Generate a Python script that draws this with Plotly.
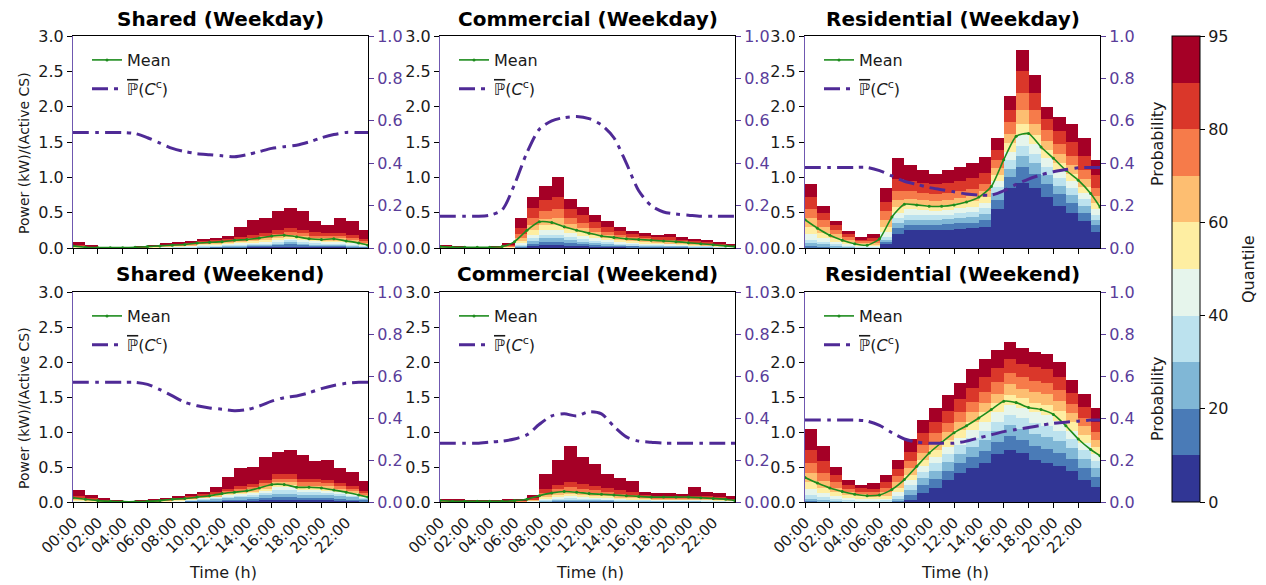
import plotly.graph_objects as go

# ---------------- data ----------------
HOURS = list(range(24))                      # bar bins (hour h covers h..h+1)
LINE_T = [float(h) for h in range(24)] + [23.75]   # sample times of the lines
QUANTILE_LEVELS = [10, 20, 30, 40, 50, 60, 70, 80, 90, 95]
TICK_HOURS = list(range(0, 24, 2))
TICK_LABELS = ["00:00", "02:00", "04:00", "06:00", "08:00", "10:00",
               "12:00", "14:00", "16:00", "18:00", "20:00", "22:00"]
CBAR_TICKS = ["0", "20", "40", "60", "80", "95"]
BAND_COLORS = ["#313695", "#4a7bb7", "#80b7d6", "#bce2ee", "#e6f5ec",
               "#feeea2", "#fdbe71", "#f67b4a", "#da372a", "#a50026"]

# quantile boundaries per hour: q10 q20 q30 q40 q50 q60 q70 q80 q90 q95
SHA_WD_Q = [
    [0, 0, 0, 0.005, 0.01, 0.015, 0.02, 0.03, 0.045, 0.08],
    [0, 0, 0, 0, 0.005, 0.005, 0.01, 0.015, 0.02, 0.03],
    [0, 0, 0, 0, 0, 0, 0.005, 0.005, 0.01, 0.01],
    [0, 0, 0, 0, 0, 0, 0.005, 0.005, 0.01, 0.01],
    [0, 0, 0, 0, 0, 0, 0.005, 0.005, 0.01, 0.01],
    [0, 0, 0, 0, 0, 0.005, 0.005, 0.01, 0.015, 0.02],
    [0, 0, 0, 0.005, 0.01, 0.015, 0.02, 0.025, 0.03, 0.04],
    [0, 0, 0.005, 0.01, 0.015, 0.02, 0.03, 0.035, 0.045, 0.06],
    [0, 0.005, 0.01, 0.015, 0.02, 0.03, 0.04, 0.05, 0.06, 0.08],
    [0, 0.005, 0.01, 0.02, 0.03, 0.04, 0.05, 0.06, 0.075, 0.1],
    [0.005, 0.01, 0.02, 0.03, 0.045, 0.06, 0.07, 0.085, 0.1, 0.12],
    [0.005, 0.015, 0.025, 0.04, 0.055, 0.07, 0.08, 0.095, 0.115, 0.14],
    [0.01, 0.02, 0.03, 0.045, 0.06, 0.075, 0.09, 0.11, 0.13, 0.17],
    [0.01, 0.025, 0.04, 0.055, 0.075, 0.09, 0.11, 0.13, 0.16, 0.3],
    [0.015, 0.03, 0.045, 0.06, 0.08, 0.1, 0.12, 0.145, 0.18, 0.4],
    [0.015, 0.035, 0.05, 0.07, 0.095, 0.115, 0.14, 0.17, 0.21, 0.42],
    [0.02, 0.045, 0.065, 0.09, 0.115, 0.14, 0.17, 0.2, 0.26, 0.52],
    [0.02, 0.05, 0.08, 0.11, 0.14, 0.16, 0.19, 0.23, 0.29, 0.56],
    [0.02, 0.045, 0.07, 0.095, 0.12, 0.145, 0.175, 0.21, 0.26, 0.52],
    [0.015, 0.035, 0.055, 0.075, 0.1, 0.12, 0.145, 0.175, 0.22, 0.38],
    [0.015, 0.03, 0.05, 0.07, 0.09, 0.11, 0.135, 0.165, 0.21, 0.33],
    [0.015, 0.03, 0.05, 0.07, 0.09, 0.11, 0.135, 0.165, 0.21, 0.43],
    [0.01, 0.02, 0.04, 0.055, 0.075, 0.09, 0.11, 0.14, 0.18, 0.38],
    [0.005, 0.015, 0.025, 0.04, 0.05, 0.065, 0.08, 0.1, 0.13, 0.25],
]
SHA_WE_Q = [
    [0, 0, 0.005, 0.01, 0.02, 0.03, 0.045, 0.06, 0.09, 0.17],
    [0, 0, 0, 0.005, 0.01, 0.02, 0.03, 0.04, 0.06, 0.1],
    [0, 0, 0, 0, 0.005, 0.01, 0.015, 0.02, 0.03, 0.05],
    [0, 0, 0, 0, 0, 0.005, 0.005, 0.01, 0.015, 0.02],
    [0, 0, 0, 0, 0, 0, 0.005, 0.005, 0.005, 0.01],
    [0, 0, 0, 0, 0, 0, 0.005, 0.005, 0.01, 0.02],
    [0, 0, 0, 0, 0.005, 0.005, 0.01, 0.015, 0.02, 0.03],
    [0, 0, 0, 0.005, 0.01, 0.015, 0.02, 0.03, 0.04, 0.05],
    [0, 0, 0.005, 0.01, 0.02, 0.03, 0.04, 0.05, 0.06, 0.08],
    [0.005, 0.015, 0.025, 0.035, 0.04, 0.05, 0.055, 0.065, 0.08, 0.12],
    [0.01, 0.02, 0.035, 0.05, 0.06, 0.07, 0.08, 0.09, 0.11, 0.15],
    [0.01, 0.025, 0.045, 0.06, 0.075, 0.085, 0.1, 0.12, 0.145, 0.22],
    [0.015, 0.035, 0.06, 0.08, 0.1, 0.115, 0.135, 0.16, 0.19, 0.36],
    [0.015, 0.04, 0.065, 0.095, 0.12, 0.135, 0.155, 0.185, 0.225, 0.48],
    [0.02, 0.045, 0.075, 0.11, 0.135, 0.155, 0.18, 0.21, 0.255, 0.5],
    [0.025, 0.055, 0.095, 0.135, 0.17, 0.19, 0.225, 0.265, 0.32, 0.65],
    [0.03, 0.07, 0.12, 0.17, 0.21, 0.24, 0.28, 0.33, 0.4, 0.72],
    [0.03, 0.07, 0.12, 0.17, 0.21, 0.24, 0.28, 0.33, 0.4, 0.74],
    [0.025, 0.06, 0.1, 0.145, 0.175, 0.2, 0.235, 0.28, 0.335, 0.67],
    [0.025, 0.06, 0.1, 0.145, 0.175, 0.2, 0.235, 0.28, 0.335, 0.58],
    [0.025, 0.055, 0.095, 0.135, 0.17, 0.19, 0.225, 0.265, 0.32, 0.6],
    [0.02, 0.05, 0.08, 0.115, 0.145, 0.165, 0.19, 0.225, 0.27, 0.48],
    [0.015, 0.04, 0.065, 0.095, 0.12, 0.135, 0.155, 0.185, 0.225, 0.43],
    [0.01, 0.03, 0.05, 0.07, 0.085, 0.095, 0.11, 0.13, 0.16, 0.3],
]
COM_WD_Q = [
    [0, 0, 0, 0, 0.005, 0.01, 0.015, 0.02, 0.03, 0.04],
    [0, 0, 0, 0, 0, 0.005, 0.01, 0.01, 0.015, 0.02],
    [0, 0, 0, 0, 0, 0, 0.005, 0.005, 0.01, 0.01],
    [0, 0, 0, 0, 0, 0, 0.005, 0.005, 0.01, 0.01],
    [0, 0, 0, 0, 0, 0.005, 0.005, 0.01, 0.015, 0.02],
    [0, 0, 0, 0.005, 0.01, 0.015, 0.02, 0.03, 0.045, 0.06],
    [0.01, 0.02, 0.03, 0.05, 0.07, 0.1, 0.14, 0.2, 0.29, 0.42],
    [0.03, 0.06, 0.1, 0.14, 0.19, 0.25, 0.33, 0.43, 0.56, 0.72],
    [0.04, 0.09, 0.14, 0.19, 0.25, 0.32, 0.41, 0.53, 0.68, 0.88],
    [0.04, 0.09, 0.14, 0.19, 0.25, 0.32, 0.42, 0.55, 0.72, 1.0],
    [0.03, 0.07, 0.11, 0.16, 0.21, 0.27, 0.34, 0.43, 0.55, 0.7],
    [0.03, 0.06, 0.09, 0.13, 0.17, 0.22, 0.28, 0.36, 0.46, 0.58],
    [0.02, 0.05, 0.07, 0.1, 0.14, 0.18, 0.23, 0.29, 0.37, 0.46],
    [0.02, 0.04, 0.06, 0.08, 0.11, 0.14, 0.18, 0.23, 0.3, 0.38],
    [0.015, 0.03, 0.05, 0.07, 0.09, 0.12, 0.15, 0.19, 0.24, 0.3],
    [0.01, 0.03, 0.04, 0.06, 0.08, 0.1, 0.13, 0.16, 0.2, 0.24],
    [0.01, 0.02, 0.04, 0.05, 0.07, 0.09, 0.11, 0.14, 0.17, 0.21],
    [0.01, 0.02, 0.03, 0.05, 0.06, 0.08, 0.1, 0.12, 0.15, 0.19],
    [0.01, 0.02, 0.03, 0.04, 0.06, 0.07, 0.09, 0.12, 0.15, 0.2],
    [0.01, 0.02, 0.03, 0.04, 0.05, 0.06, 0.08, 0.1, 0.12, 0.15],
    [0.005, 0.01, 0.02, 0.03, 0.04, 0.05, 0.07, 0.08, 0.1, 0.13],
    [0.005, 0.01, 0.02, 0.03, 0.03, 0.04, 0.05, 0.07, 0.09, 0.11],
    [0, 0.01, 0.01, 0.02, 0.02, 0.03, 0.04, 0.05, 0.06, 0.08],
    [0, 0.005, 0.01, 0.01, 0.015, 0.02, 0.025, 0.03, 0.04, 0.05],
]
COM_WE_Q = [
    [0, 0, 0, 0, 0.005, 0.01, 0.01, 0.015, 0.02, 0.04],
    [0, 0, 0, 0, 0, 0.005, 0.005, 0.01, 0.015, 0.03],
    [0, 0, 0, 0, 0, 0, 0.005, 0.005, 0.01, 0.02],
    [0, 0, 0, 0, 0, 0, 0.005, 0.005, 0.01, 0.02],
    [0, 0, 0, 0, 0, 0, 0.005, 0.005, 0.01, 0.02],
    [0, 0, 0, 0, 0, 0.005, 0.005, 0.01, 0.015, 0.03],
    [0, 0, 0, 0, 0.005, 0.01, 0.01, 0.015, 0.025, 0.05],
    [0, 0, 0.005, 0.01, 0.015, 0.02, 0.03, 0.04, 0.06, 0.1],
    [0.005, 0.01, 0.02, 0.03, 0.05, 0.07, 0.1, 0.13, 0.18, 0.4],
    [0.01, 0.02, 0.03, 0.05, 0.07, 0.1, 0.14, 0.19, 0.25, 0.6],
    [0.01, 0.02, 0.04, 0.06, 0.08, 0.11, 0.16, 0.21, 0.28, 0.8],
    [0.01, 0.02, 0.03, 0.05, 0.07, 0.1, 0.14, 0.19, 0.26, 0.65],
    [0.01, 0.02, 0.03, 0.05, 0.07, 0.09, 0.13, 0.17, 0.23, 0.55],
    [0.01, 0.02, 0.03, 0.04, 0.06, 0.08, 0.11, 0.15, 0.2, 0.4],
    [0.005, 0.01, 0.02, 0.03, 0.05, 0.07, 0.09, 0.12, 0.17, 0.35],
    [0.005, 0.01, 0.02, 0.03, 0.04, 0.06, 0.08, 0.1, 0.14, 0.3],
    [0.005, 0.01, 0.02, 0.03, 0.04, 0.05, 0.06, 0.08, 0.1, 0.14],
    [0.005, 0.01, 0.02, 0.02, 0.03, 0.04, 0.05, 0.07, 0.09, 0.13],
    [0.005, 0.01, 0.02, 0.02, 0.03, 0.04, 0.05, 0.07, 0.09, 0.13],
    [0.005, 0.01, 0.02, 0.02, 0.03, 0.04, 0.05, 0.06, 0.08, 0.12],
    [0.005, 0.01, 0.02, 0.02, 0.03, 0.04, 0.05, 0.07, 0.09, 0.21],
    [0.005, 0.01, 0.01, 0.02, 0.03, 0.04, 0.05, 0.06, 0.08, 0.15],
    [0, 0.005, 0.01, 0.015, 0.02, 0.03, 0.04, 0.05, 0.07, 0.13],
    [0, 0.005, 0.01, 0.01, 0.015, 0.02, 0.03, 0.04, 0.05, 0.09],
]
RES_WD_Q = [
    [0.0, 0.03, 0.07, 0.12, 0.2, 0.3, 0.42, 0.55, 0.72, 0.9],
    [0.0, 0.02, 0.05, 0.09, 0.14, 0.21, 0.3, 0.4, 0.5, 0.6],
    [0.0, 0.01, 0.03, 0.06, 0.09, 0.14, 0.2, 0.26, 0.32, 0.38],
    [0.0, 0.01, 0.02, 0.04, 0.06, 0.09, 0.12, 0.16, 0.2, 0.24],
    [0.0, 0.0, 0.01, 0.02, 0.04, 0.06, 0.08, 0.1, 0.12, 0.15],
    [0.0, 0.0, 0.01, 0.02, 0.03, 0.05, 0.07, 0.1, 0.14, 0.2],
    [0.05, 0.08, 0.12, 0.16, 0.22, 0.3, 0.4, 0.52, 0.65, 0.85],
    [0.2, 0.28, 0.35, 0.42, 0.5, 0.58, 0.68, 0.8, 0.98, 1.27],
    [0.25, 0.33, 0.4, 0.47, 0.55, 0.62, 0.7, 0.8, 0.95, 1.18],
    [0.25, 0.33, 0.4, 0.47, 0.54, 0.61, 0.68, 0.78, 0.92, 1.1],
    [0.25, 0.33, 0.4, 0.46, 0.53, 0.6, 0.67, 0.76, 0.9, 1.05],
    [0.26, 0.34, 0.41, 0.47, 0.54, 0.61, 0.68, 0.78, 0.92, 1.1],
    [0.27, 0.35, 0.42, 0.49, 0.56, 0.63, 0.71, 0.8, 0.95, 1.15],
    [0.28, 0.36, 0.44, 0.51, 0.58, 0.66, 0.74, 0.84, 0.99, 1.2],
    [0.3, 0.4, 0.48, 0.56, 0.64, 0.72, 0.8, 0.91, 1.06, 1.29],
    [0.55, 0.68, 0.78, 0.87, 0.95, 1.04, 1.13, 1.25, 1.38, 1.55],
    [0.85, 1.0, 1.12, 1.24, 1.36, 1.48, 1.62, 1.78, 1.95, 2.15],
    [0.92, 1.15, 1.3, 1.45, 1.6, 1.75, 1.95, 2.2, 2.5, 2.8],
    [0.85, 1.05, 1.2, 1.33, 1.47, 1.6, 1.76, 1.95, 2.2, 2.45],
    [0.72, 0.9, 1.03, 1.15, 1.27, 1.38, 1.52, 1.67, 1.82, 2.0],
    [0.6, 0.76, 0.88, 0.99, 1.1, 1.2, 1.33, 1.47, 1.65, 1.85],
    [0.5, 0.64, 0.75, 0.85, 0.95, 1.05, 1.17, 1.3, 1.5, 1.75],
    [0.38, 0.5, 0.6, 0.69, 0.78, 0.87, 0.97, 1.1, 1.3, 1.55],
    [0.22, 0.32, 0.4, 0.47, 0.55, 0.63, 0.73, 0.85, 1.03, 1.25],
]
RES_WE_Q = [
    [0.0, 0.02, 0.05, 0.1, 0.18, 0.28, 0.42, 0.56, 0.75, 1.05],
    [0.0, 0.01, 0.03, 0.07, 0.13, 0.2, 0.3, 0.42, 0.58, 0.8],
    [0.0, 0.0, 0.02, 0.05, 0.09, 0.14, 0.2, 0.28, 0.38, 0.5],
    [0.0, 0.0, 0.01, 0.03, 0.06, 0.1, 0.14, 0.19, 0.25, 0.32],
    [0.0, 0.0, 0.01, 0.02, 0.05, 0.08, 0.11, 0.15, 0.2, 0.25],
    [0.0, 0.0, 0.01, 0.02, 0.04, 0.07, 0.1, 0.14, 0.19, 0.27],
    [0.0, 0.0, 0.01, 0.03, 0.05, 0.09, 0.14, 0.2, 0.28, 0.38],
    [0.0, 0.02, 0.05, 0.09, 0.14, 0.2, 0.28, 0.37, 0.47, 0.6],
    [0.03, 0.1, 0.17, 0.24, 0.31, 0.39, 0.48, 0.58, 0.72, 0.9],
    [0.13, 0.24, 0.34, 0.43, 0.51, 0.6, 0.7, 0.82, 0.98, 1.17],
    [0.2, 0.33, 0.45, 0.56, 0.65, 0.75, 0.86, 0.98, 1.15, 1.35],
    [0.32, 0.45, 0.57, 0.68, 0.79, 0.89, 1.0, 1.13, 1.3, 1.53],
    [0.42, 0.56, 0.69, 0.81, 0.92, 1.03, 1.15, 1.29, 1.47, 1.7],
    [0.49, 0.64, 0.78, 0.91, 1.03, 1.15, 1.28, 1.43, 1.63, 1.9],
    [0.56, 0.73, 0.88, 1.02, 1.15, 1.28, 1.41, 1.57, 1.78, 2.05],
    [0.68, 0.86, 1.01, 1.15, 1.28, 1.41, 1.55, 1.71, 1.92, 2.17],
    [0.75, 0.94, 1.1, 1.25, 1.39, 1.53, 1.68, 1.84, 2.04, 2.28],
    [0.7, 0.89, 1.05, 1.2, 1.34, 1.48, 1.62, 1.78, 1.97, 2.2],
    [0.6, 0.8, 0.97, 1.13, 1.28, 1.42, 1.57, 1.73, 1.93, 2.15],
    [0.56, 0.76, 0.93, 1.09, 1.24, 1.39, 1.54, 1.7, 1.9, 2.12],
    [0.51, 0.7, 0.87, 1.02, 1.16, 1.3, 1.45, 1.6, 1.78, 2.0],
    [0.45, 0.62, 0.77, 0.9, 1.02, 1.14, 1.27, 1.4, 1.56, 1.75],
    [0.32, 0.48, 0.62, 0.74, 0.85, 0.96, 1.08, 1.2, 1.36, 1.55],
    [0.22, 0.36, 0.48, 0.58, 0.68, 0.78, 0.89, 1.0, 1.15, 1.35],
]

# mean power, sampled at LINE_T
SHA_WD_MEAN = [0.03, 0.01, 0.005, 0.005, 0.005, 0.01, 0.02, 0.03, 0.04, 0.05, 0.07, 0.08,
               0.09, 0.11, 0.12, 0.14, 0.17, 0.18, 0.16, 0.13, 0.12, 0.13, 0.1, 0.07, 0.04]
SHA_WE_MEAN = [0.06, 0.04, 0.02, 0.01, 0.005, 0.005, 0.01, 0.02, 0.04, 0.05, 0.07, 0.09,
               0.12, 0.14, 0.16, 0.2, 0.25, 0.25, 0.21, 0.21, 0.2, 0.17, 0.14, 0.1, 0.07]
COM_WD_MEAN = [0.02, 0.01, 0.01, 0.01, 0.01, 0.02, 0.09, 0.25, 0.37, 0.36, 0.3, 0.25,
               0.21, 0.17, 0.15, 0.13, 0.12, 0.11, 0.1, 0.09, 0.075, 0.06, 0.045, 0.03, 0.02]
COM_WE_MEAN = [0.02, 0.01, 0.01, 0.01, 0.01, 0.01, 0.02, 0.04, 0.09, 0.13, 0.15, 0.14,
               0.12, 0.11, 0.1, 0.09, 0.08, 0.07, 0.07, 0.07, 0.07, 0.06, 0.05, 0.04, 0.02]
RES_WD_MEAN = [0.4, 0.28, 0.18, 0.11, 0.06, 0.04, 0.13, 0.44, 0.62, 0.61, 0.59, 0.59,
               0.61, 0.65, 0.72, 0.87, 1.25, 1.58, 1.62, 1.43, 1.27, 1.1, 0.96, 0.77, 0.58]
RES_WE_MEAN = [0.35, 0.27, 0.2, 0.15, 0.11, 0.09, 0.1, 0.18, 0.32, 0.51, 0.7, 0.85,
               0.99, 1.09, 1.2, 1.32, 1.44, 1.42, 1.35, 1.32, 1.25, 1.09, 0.9, 0.75, 0.66]

# probability P(C^c), sampled at LINE_T
SHA_WD_PROB = [0.545, 0.545, 0.545, 0.545, 0.545, 0.54, 0.52, 0.495, 0.47, 0.455, 0.445, 0.44,
               0.435, 0.43, 0.44, 0.455, 0.47, 0.478, 0.485, 0.5, 0.52, 0.535, 0.545, 0.545, 0.545]
SHA_WE_PROB = [0.57, 0.57, 0.57, 0.57, 0.57, 0.57, 0.56, 0.535, 0.505, 0.475, 0.458, 0.448,
               0.442, 0.435, 0.44, 0.457, 0.48, 0.497, 0.505, 0.52, 0.54, 0.555, 0.565, 0.57, 0.57]
COM_WD_PROB = [0.15, 0.15, 0.15, 0.15, 0.155, 0.18, 0.3, 0.45, 0.56, 0.6, 0.615, 0.62,
               0.61, 0.58, 0.52, 0.4, 0.27, 0.2, 0.17, 0.16, 0.155, 0.15, 0.15, 0.15, 0.15]
COM_WE_PROB = [0.28, 0.28, 0.28, 0.28, 0.285, 0.29, 0.3, 0.32, 0.37, 0.41, 0.42, 0.41,
               0.43, 0.42, 0.36, 0.31, 0.29, 0.285, 0.28, 0.28, 0.28, 0.28, 0.28, 0.28, 0.28]
RES_WD_PROB = [0.38, 0.38, 0.38, 0.38, 0.38, 0.38, 0.365, 0.34, 0.315, 0.3, 0.285, 0.275,
               0.265, 0.255, 0.25, 0.25, 0.27, 0.3, 0.325, 0.345, 0.36, 0.37, 0.378, 0.38, 0.38]
RES_WE_PROB = [0.39, 0.39, 0.39, 0.39, 0.39, 0.385, 0.365, 0.33, 0.3, 0.285, 0.28, 0.28,
               0.28, 0.29, 0.305, 0.32, 0.335, 0.345, 0.355, 0.365, 0.375, 0.38, 0.385, 0.39, 0.39]

PANELS = [
    ("Shared (Weekday)", SHA_WD_Q, SHA_WD_MEAN, SHA_WD_PROB),
    ("Commercial (Weekday)", COM_WD_Q, COM_WD_MEAN, COM_WD_PROB),
    ("Residential (Weekday)", RES_WD_Q, RES_WD_MEAN, RES_WD_PROB),
    ("Shared (Weekend)", SHA_WE_Q, SHA_WE_MEAN, SHA_WE_PROB),
    ("Commercial (Weekend)", COM_WE_Q, COM_WE_MEAN, COM_WE_PROB),
    ("Residential (Weekend)", RES_WE_Q, RES_WE_MEAN, RES_WE_PROB),
]

# ---------------- layout helpers ----------------
W, H = 1266, 585
COLS_PX = [(73, 368), (440, 735), (805, 1100)]
ROWS_PX = [(36, 248), (292, 502)]
FONT = "DejaVu Sans"
TXT = "#1a1a1a"
PURPLE_LINE = "#4f2a96"
PURPLE_TXT = "#5a3d9a"
SPINE_PURPLE = "#6f58b0"
GREEN = "#1d8c1d"


def fx(p):
    return p / W


def fy(p):
    return 1 - p / H


fig = go.Figure()
layout = dict(
    template="none",
    width=W, height=H, margin=dict(l=0, r=0, t=0, b=0, autoexpand=False),
    paper_bgcolor="white", plot_bgcolor="white",
    font=dict(family=FONT, color=TXT, size=15),
    barmode="overlay", bargap=0, showlegend=True,
    annotations=[],
)


def note(text, x, y, size=15, angle=0, color=TXT):
    layout["annotations"].append(dict(
        text=text, x=x, y=y, xref="paper", yref="paper", showarrow=False,
        textangle=angle, xanchor="center", yanchor="middle",
        font=dict(size=size, color=color, family=FONT),
    ))


for k, (title, qtab, mean, prob) in enumerate(PANELS):
    idx = k + 1
    row, col = divmod(k, 3)
    xa = "x" if idx == 1 else f"x{idx}"
    ya = "y" if idx == 1 else f"y{idx}"
    ya2 = f"y{idx + 6}"
    leg = "legend" if idx == 1 else f"legend{idx}"
    x0, x1 = COLS_PX[col]
    y0, y1 = ROWS_PX[row]

    # stacked quantile bands
    for j in range(len(QUANTILE_LEVELS)):
        base = [0.0 if j == 0 else qtab[h][j - 1] for h in HOURS]
        top = [qtab[h][j] for h in HOURS]
        fig.add_trace(go.Bar(
            x=[h + 0.5 for h in HOURS], y=[t - b for t, b in zip(top, base)], base=base,
            width=1.0, marker=dict(color=BAND_COLORS[j], line=dict(width=0)),
            xaxis=xa, yaxis=ya, showlegend=False, hoverinfo="skip",
        ))
    # mean line
    fig.add_trace(go.Scatter(
        x=LINE_T, y=mean, mode="lines+markers", name="Mean",
        line=dict(color=GREEN, width=1.6, shape="spline", smoothing=0.6),
        marker=dict(size=3, color=GREEN),
        xaxis=xa, yaxis=ya, legend=leg, legendgroup=f"m{idx}",
    ))
    # probability line
    fig.add_trace(go.Scatter(
        x=LINE_T, y=prob, mode="lines",
        name="<span style='text-decoration:overline'>ℙ</span>(<i>C</i><sup>c</sup>)",
        line=dict(color=PURPLE_LINE, width=3, dash="16px,6px,4px,6px",
                  shape="spline", smoothing=0.8),
        xaxis=xa, yaxis=ya2, legend=leg, legendgroup=f"p{idx}",
    ))

    xkey = "xaxis" if idx == 1 else f"xaxis{idx}"
    ykey = "yaxis" if idx == 1 else f"yaxis{idx}"
    y2key = f"yaxis{idx + 6}"
    layout[xkey] = dict(
        domain=[fx(x0), fx(x1)], anchor=ya, range=[0, 23.75], automargin=False,
        tickmode="array", tickvals=TICK_HOURS, ticktext=TICK_LABELS,
        showticklabels=(row == 1), tickangle=-45,
        tickfont=dict(size=15, color=TXT, family=FONT),
        ticks="outside", ticklen=5, tickcolor="black",
        showline=True, linecolor="black", linewidth=1, mirror=True,
        showgrid=False, zeroline=False,
    )
    layout[ykey] = dict(
        domain=[fy(y1), fy(y0)], anchor=xa, range=[0, 3.0], automargin=False,
        tickmode="array", tickvals=[0, 0.5, 1.0, 1.5, 2.0, 2.5, 3.0],
        tickformat=".1f", tickfont=dict(size=16, color=TXT, family=FONT),
        ticks="outside", ticklen=5, tickcolor="black",
        showline=True, linecolor=SPINE_PURPLE, linewidth=1,
        showgrid=False, zeroline=False,
    )
    layout[y2key] = dict(
        overlaying=ya, anchor=xa, side="right", range=[0, 1.0], automargin=False,
        tickmode="array", tickvals=[0, 0.2, 0.4, 0.6, 0.8, 1.0],
        tickformat=".1f", tickfont=dict(size=16, color=PURPLE_TXT, family=FONT),
        ticks="outside", ticklen=5, tickcolor=PURPLE_TXT,
        showline=True, linecolor="black", linewidth=1,
        showgrid=False, zeroline=False,
    )
    layout[leg] = dict(
        x=fx(x0 + 14), y=fy(y0 + 7), xanchor="left", yanchor="top",
        bgcolor="rgba(0,0,0,0)", borderwidth=0, tracegroupgap=5,
        font=dict(size=16, color=TXT, family=FONT),
    )
    note(f"<b>{title}</b>", fx((x0 + x1) / 2), fy(19 if row == 0 else 274),
         size=20, color="black")
    if row == 1:
        note("Time (h)", fx((x0 + x1) / 2 + 2), fy(572), size=16)
    if col == 0:
        note("Power (kW)/(Active CS)", fx(24), fy((y0 + y1) / 2 + 11), size=14, angle=-90)
    if col == 2:
        note("Probability", fx(1157), fy((y0 + y1) / 2 + 2), size=16, angle=-90)

note("Quantile", fx(1249), fy(269), size=16, angle=-90)

# discrete colour bar for the quantile bands
n = len(BAND_COLORS)
cscale = []
for i, c in enumerate(BAND_COLORS):
    cscale.append([i / n, c])
    cscale.append([(i + 1) / n, c])
fig.add_trace(go.Scatter(
    x=[None], y=[None], mode="markers", showlegend=False, hoverinfo="skip",
    marker=dict(
        color=[0], cmin=0, cmax=n, colorscale=cscale, showscale=True,
        colorbar=dict(
            x=fx(1172), xanchor="left", thickness=28, thicknessmode="pixels",
            len=(502 - 36) / H, lenmode="fraction", y=fy(269), yanchor="middle",
            xpad=0, ypad=0, outlinecolor="black", outlinewidth=1,
            tickmode="array", tickvals=[0, 2, 4, 6, 8, 10], ticktext=CBAR_TICKS,
            ticks="outside", ticklen=5, tickcolor="black",
            tickfont=dict(size=16, color=TXT, family=FONT),
        ),
    ),
    xaxis="x", yaxis="y",
))

fig.update_layout(**layout)
fig.write_html("out.html", config={"displayModeBar": False},
               post_script="document.body.style.margin='0';document.body.style.overflow='hidden';")
